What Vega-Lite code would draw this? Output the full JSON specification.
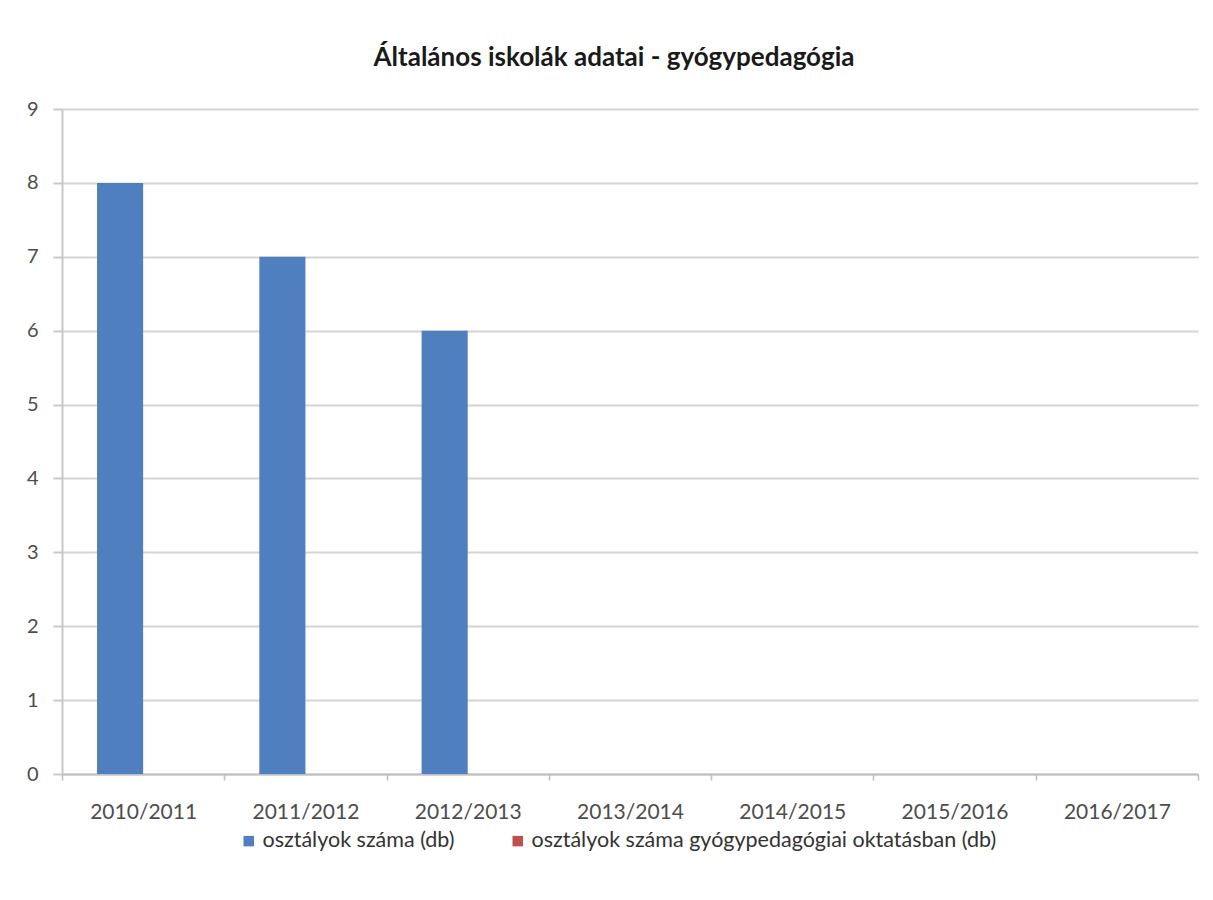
{
  "$schema": "https://vega.github.io/schema/vega-lite/v6.json",
  "width": 1136,
  "height": 665,
  "autosize": {"type": "none"},
  "padding": {"left": 62, "top": 109, "right": 15, "bottom": 126},
  "background": "white",
  "title": {
    "text": "Általános iskolák adatai - gyógypedagógia",
    "font": "Lato",
    "fontSize": 26,
    "fontWeight": "bold",
    "color": "#1a1a1a",
    "anchor": "middle",
    "dx": -16,
    "offset": 28
  },
  "data": {
    "values": [
      {"tanev": "2010/2011", "sorozat": "osztályok száma (db)", "ertek": 8},
      {"tanev": "2011/2012", "sorozat": "osztályok száma (db)", "ertek": 7},
      {"tanev": "2012/2013", "sorozat": "osztályok száma (db)", "ertek": 6},
      {"tanev": "2013/2014", "sorozat": "osztályok száma (db)", "ertek": 0},
      {"tanev": "2014/2015", "sorozat": "osztályok száma (db)", "ertek": 0},
      {"tanev": "2015/2016", "sorozat": "osztályok száma (db)", "ertek": 0},
      {"tanev": "2016/2017", "sorozat": "osztályok száma (db)", "ertek": 0},
      {"tanev": "2010/2011", "sorozat": "osztályok száma gyógypedagógiai oktatásban (db)", "ertek": 0},
      {"tanev": "2011/2012", "sorozat": "osztályok száma gyógypedagógiai oktatásban (db)", "ertek": 0},
      {"tanev": "2012/2013", "sorozat": "osztályok száma gyógypedagógiai oktatásban (db)", "ertek": 0},
      {"tanev": "2013/2014", "sorozat": "osztályok száma gyógypedagógiai oktatásban (db)", "ertek": 0},
      {"tanev": "2014/2015", "sorozat": "osztályok száma gyógypedagógiai oktatásban (db)", "ertek": 0},
      {"tanev": "2015/2016", "sorozat": "osztályok száma gyógypedagógiai oktatásban (db)", "ertek": 0},
      {"tanev": "2016/2017", "sorozat": "osztályok száma gyógypedagógiai oktatásban (db)", "ertek": 0}
    ]
  },
  "mark": {"type": "bar"},
  "encoding": {
    "x": {
      "field": "tanev",
      "type": "nominal",
      "sort": null,
      "scale": {"paddingInner": 0, "paddingOuter": 0},
      "axis": {
        "title": null,
        "labelAngle": 0,
        "labelFont": "Lato",
        "labelFontSize": 21,
        "labelColor": "#4d4d4d",
        "labelPadding": 21,
        "tickBand": "extent",
        "tickColor": "#bfbfbf",
        "tickWidth": 1.5,
        "tickSize": 6,
        "domainColor": "#bfbfbf",
        "domainWidth": 2,
        "grid": false
      }
    },
    "xOffset": {
      "field": "sorozat",
      "type": "nominal",
      "scale": {"paddingInner": 0, "paddingOuter": 0.76}
    },
    "y": {
      "field": "ertek",
      "type": "quantitative",
      "scale": {"domain": [0, 9], "nice": false},
      "axis": {
        "title": null,
        "values": [0, 1, 2, 3, 4, 5, 6, 7, 8, 9],
        "labelFont": "Lato",
        "labelFontSize": 20,
        "labelColor": "#4d4d4d",
        "labelPadding": 15,
        "tickColor": "#c8c8c8",
        "tickSize": 9,
        "tickWidth": 2,
        "domainColor": "#c8c8c8",
        "domainWidth": 2,
        "grid": true,
        "gridColor": "#d4d4d4",
        "gridWidth": 2
      }
    },
    "color": {
      "field": "sorozat",
      "type": "nominal",
      "scale": {
        "domain": ["osztályok száma (db)", "osztályok száma gyógypedagógiai oktatásban (db)"],
        "range": ["#4F7FBE", "#C0504D"]
      },
      "legend": {
        "title": null,
        "orient": "none",
        "direction": "horizontal",
        "legendX": 176,
        "legendY": 721,
        "symbolType": "square",
        "symbolSize": 110,
        "symbolStrokeWidth": 0,
        "labelFont": "Lato",
        "labelFontSize": 21.5,
        "labelColor": "#333333",
        "labelOffset": 3,
        "labelLimit": 800,
        "columnPadding": 52
      }
    }
  },
  "config": {
    "view": {"stroke": null}
  }
}
